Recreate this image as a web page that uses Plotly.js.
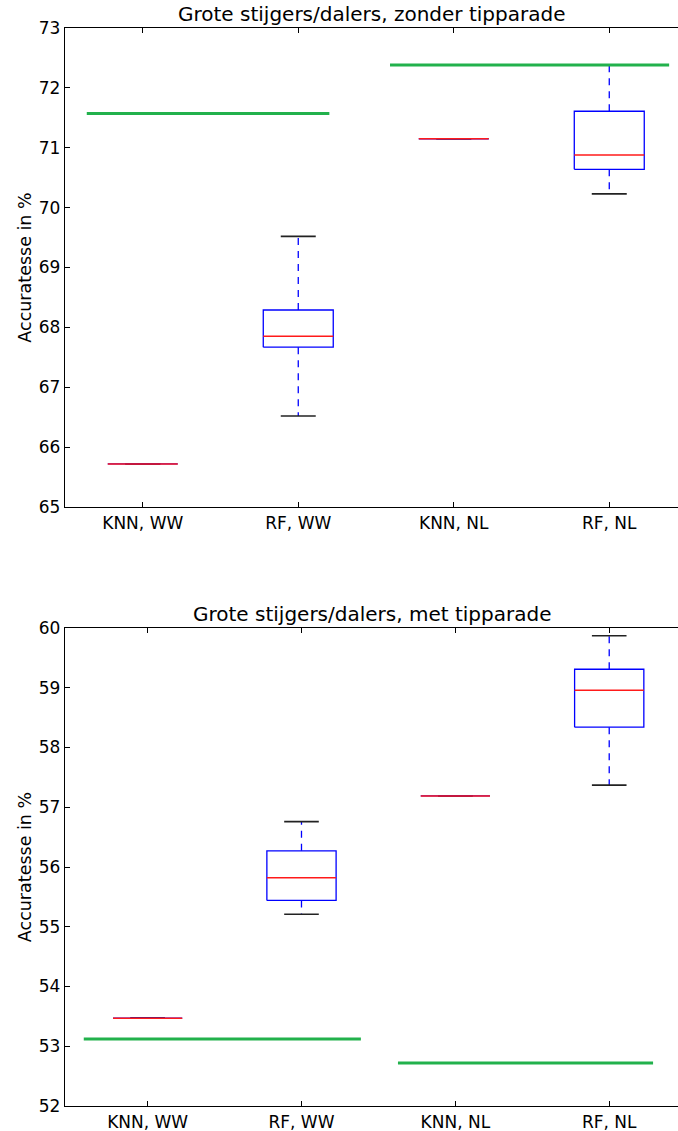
<!DOCTYPE html>
<html>
<head>
<meta charset="utf-8">
<script src="https://cdn.plot.ly/plotly-3.0.1.min.js"></script>
<style>
  html, body { margin: 0; padding: 0; background: #fff; }
  #chart { width: 678px; height: 1131px; }
</style>
</head>
<body>
<div id="chart"></div>
<script>
// Model categories on the x axis
const categories = ['KNN, WW', 'RF, WW', 'KNN, NL', 'RF, NL'];
const positions = [1, 2, 3, 4];

// Accuracy (%) without tipparade: whisker ends, quartiles, medians
const zonderLow    = [65.72, 66.52, 71.15, 70.23];
const zonderQ1     = [65.72, 67.67, 71.15, 70.64];
const zonderMedian = [65.72, 67.85, 71.15, 70.88];
const zonderQ3     = [65.72, 68.29, 71.15, 71.61];
const zonderHigh   = [65.72, 69.52, 71.15, 72.38];
// Reference accuracy for the WW and NL groups
const zonderBaseline = [71.57, 72.38];

// Accuracy (%) with tipparade
const metLow    = [53.47, 55.21, 57.19, 57.37];
const metQ1     = [53.47, 55.44, 57.19, 58.34];
const metMedian = [53.47, 55.82, 57.19, 58.96];
const metQ3     = [53.47, 56.27, 57.19, 59.31];
const metHigh   = [53.47, 56.76, 57.19, 59.87];
const metBaseline = [53.12, 52.72];

const BOX_HALF = 0.225;
const CAP_HALF = 0.1125;

function boxTraces(low, q1, med, q3, high, baseline, baseSpans, xa, ya) {
  const wx = [], wy = [], cx = [], cy = [], bx = [], by = [], mx = [], my = [];
  positions.forEach((p, i) => {
    wx.push(p, p, null, p, p, null);
    wy.push(q3[i], high[i], null, q1[i], low[i], null);
    cx.push(p - CAP_HALF, p + CAP_HALF, null, p - CAP_HALF, p + CAP_HALF, null);
    cy.push(high[i], high[i], null, low[i], low[i], null);
    bx.push(p - BOX_HALF, p + BOX_HALF, p + BOX_HALF, p - BOX_HALF, p - BOX_HALF, null);
    by.push(q1[i], q1[i], q3[i], q3[i], q1[i], null);
    mx.push(p - BOX_HALF, p + BOX_HALF, null);
    my.push(med[i], med[i], null);
  });
  const gx = [], gy = [];
  baseline.forEach((v, i) => {
    gx.push(baseSpans[i][0], baseSpans[i][1], null);
    gy.push(v, v, null);
  });
  const common = { type: 'scatter', mode: 'lines', xaxis: xa, yaxis: ya,
                   hoverinfo: 'skip', showlegend: false };
  return [
    Object.assign({}, common, { x: wx, y: wy, line: { color: '#0000ff', width: 1.3, dash: '7px,6px' } }),
    Object.assign({}, common, { x: cx, y: cy, line: { color: '#222', width: 1.6 } }),
    Object.assign({}, common, { x: bx, y: by, line: { color: '#0000ff', width: 1.3 } }),
    Object.assign({}, common, { x: mx, y: my, line: { color: '#ff1a1a', width: 1.5 } }),
    Object.assign({}, common, { x: gx, y: gy, line: { color: '#22b14c', width: 3 } })
  ];
}

const data = [].concat(
  boxTraces(zonderLow, zonderQ1, zonderMedian, zonderQ3, zonderHigh,
            zonderBaseline, [[0.64, 2.20], [2.59, 4.385]], 'x', 'y'),
  boxTraces(metLow, metQ1, metMedian, metQ3, metHigh,
            metBaseline, [[0.585, 2.386], [2.627, 4.285]], 'x2', 'y2')
);

const FONT = 'DejaVu Sans, sans-serif';
const H = 1131;

function xAxis(range, anchor) {
  return {
    range: range, domain: [0, 1], anchor: anchor,
    tickmode: 'array', tickvals: positions, ticktext: categories,
    ticks: 'inside', ticklen: 5, tickwidth: 1, tickcolor: '#000',
    showline: true, linecolor: '#000', linewidth: 1.2, mirror: 'ticks',
    showgrid: false, zeroline: false,
    tickfont: { family: FONT, size: 17, color: '#000' }
  };
}
function yAxis(range, domain, anchor) {
  return {
    range: range, domain: domain, anchor: anchor,
    dtick: 1, tick0: 0,
    ticks: 'inside', ticklen: 5, tickwidth: 1, tickcolor: '#000',
    showline: true, linecolor: '#000', linewidth: 1.2, mirror: false,
    showgrid: false, zeroline: false,
    tickfont: { family: FONT, size: 17, color: '#000' },
    title: { text: 'Accuratesse in %', font: { family: FONT, size: 17.5, color: '#000' }, standoff: 2 }
  };
}

const topDomain = [1 - 507 / H, 1 - 28 / H];
const botDomain = [1 - 1106 / H, 1 - 628 / H];

const layout = {
  width: 678, height: 1131,
  margin: { l: 65, r: 0, t: 0, b: 0, pad: 0 },
  paper_bgcolor: '#fff', plot_bgcolor: '#fff',
  showlegend: false,
  xaxis: xAxis([0.5, 4.442], 'y'),
  yaxis: yAxis([65, 73], topDomain, 'x'),
  xaxis2: xAxis([0.463, 4.447], 'y2'),
  yaxis2: yAxis([52, 60], botDomain, 'x2'),
  annotations: [
    { text: 'Grote stijgers/dalers, zonder tipparade', xref: 'paper', yref: 'paper',
      x: 0.5, y: topDomain[1], xanchor: 'center', yanchor: 'bottom', yshift: 0,
      showarrow: false, font: { family: FONT, size: 20, color: '#000' } },
    { text: 'Grote stijgers/dalers, met tipparade', xref: 'paper', yref: 'paper',
      x: 0.5, y: botDomain[1], xanchor: 'center', yanchor: 'bottom', yshift: 0,
      showarrow: false, font: { family: FONT, size: 20, color: '#000' } }
  ]
};

Plotly.newPlot('chart', data, layout, { staticPlot: true, displayModeBar: false });
</script>
</body>
</html>
